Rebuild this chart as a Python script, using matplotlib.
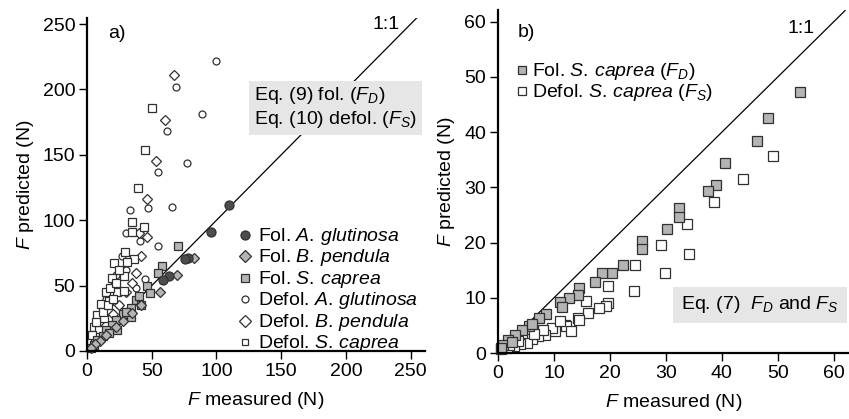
import matplotlib
matplotlib.use("Agg")
import matplotlib.pyplot as plt

plt.rcParams['font.family'] = ['Liberation Sans', 'DejaVu Sans']
plt.rcParams['mathtext.fontset'] = 'custom'
plt.rcParams['mathtext.rm'] = 'Liberation Sans'
plt.rcParams['mathtext.it'] = 'Liberation Sans:italic'
plt.rcParams['mathtext.bf'] = 'Liberation Sans:bold'

# ---- panel a data (Eq. 9 foliated, Eq. 10 defoliated) ----
fol_alnus_x = [110, 95.5, 78, 76, 63.5, 59]
fol_alnus_y = [112, 91, 71, 70, 57, 54.5]

fol_betula_x = [83, 69.5, 56, 42, 35, 28, 22, 15, 10, 6, 3]
fol_betula_y = [71, 58, 45, 35, 29, 23, 18, 12, 8, 5, 2.5]

fol_salix_x = [70.5, 58, 55, 46, 49, 37.5, 41.5, 34, 27.5, 34, 22, 19.5, 14.5, 23.5, 12, 8, 5.5, 3, 40, 30, 17]
fol_salix_y = [80, 65, 60, 50, 44.5, 39, 35, 32.5, 28.5, 26, 23.5, 20, 16, 16, 11.5, 8.5, 4.5, 2, 42, 30, 14]

defol_alnus_x = [100, 69, 89, 62, 77.5, 54.5, 66, 47, 33, 30, 41, 55, 27, 45, 30, 20, 15, 10, 5, 38, 25,
                 8, 12, 18, 22]
defol_alnus_y = [222, 202, 181, 168, 143.5, 137, 110, 109, 108, 90, 84, 80, 73, 55, 62, 50, 40, 25, 10, 48, 35,
                 18, 28, 40, 58]

defol_betula_x = [67, 60, 53.5, 46, 46.5, 40, 42, 38, 35, 30, 25, 20, 15, 10, 5]
defol_betula_y = [211, 177, 145, 116, 87, 90, 73, 60, 52, 45, 35, 28, 20, 13, 6]

defol_salix_x = [50, 45, 39.5, 34.5, 44, 34.5, 29, 36.5, 31, 21, 19, 28.5, 15, 23.5, 28.5, 10.5, 17, 8, 13, 5.5,
                 9.5, 3, 6, 4, 7, 12, 18, 22, 25, 16, 20]
defol_salix_y = [186, 154, 125, 99, 95, 91, 76, 70, 68, 67, 55.5, 57, 45, 45, 46, 36, 38, 27.5, 25, 18.5,
                 16, 8, 11, 12, 22, 30, 48, 52, 62, 35, 40]

# ---- panel b data (Eq. 7, S. caprea) ----
fol_b_x = [54.0, 48.3, 46.2, 40.6, 38.9, 37.5, 32.4, 32.3, 30.2, 25.7, 25.8, 22.4, 20.4, 18.6, 17.4,
           14.5, 14.3, 12.7, 11.1, 11.4, 8.5, 7.3, 5.5, 4.3, 3.0, 1.8, 0.9, 0.5, 2.5, 6]
fol_b_y = [47.3, 42.5, 38.4, 34.4, 30.4, 29.3, 26.3, 24.6, 22.5, 20.2, 18.8, 15.9, 14.4, 14.4, 12.9,
           11.7, 10.5, 9.9, 9.3, 8.3, 7.1, 6.3, 4.8, 4.2, 3.3, 2.4, 1.4, 0.9, 2.0, 5.2]

defol_b_x = [49.2, 43.7, 38.5, 33.7, 29.1, 34.1, 29.8, 24.5, 24.3, 19.7, 19.6, 19.3, 18.0, 15.7, 16.1,
             14.3, 14.5, 12.0, 12.2, 10.2, 9.6, 8.4, 7.1, 6.1, 5.2, 4.0, 2.8, 1.6, 0.5, 11, 13, 8, 6.5, 3.5, 2]
defol_b_y = [35.6, 31.5, 27.4, 23.4, 19.6, 18.0, 14.5, 15.9, 11.3, 12.2, 9.1, 8.5, 8.1, 9.5, 7.2,
             6.3, 6.0, 5.1, 4.8, 3.9, 4.5, 3.3, 3.0, 2.6, 1.9, 1.6, 1.2, 0.9, 0.8, 5.8, 4.0, 4.2, 3.5, 2.2, 1.5]

ticks_a = [0, 50, 100, 150, 200, 250]
ticks_b = [0, 10, 20, 30, 40, 50, 60]

labels_a = ['Fol. $\\it{A.\\,glutinosa}$', 'Fol. $\\it{B.\\,pendula}$', 'Fol. $\\it{S.\\,caprea}$',
            'Defol. $\\it{A.\\,glutinosa}$', 'Defol. $\\it{B.\\,pendula}$', 'Defol. $\\it{S.\\,caprea}$']
labels_b = ['Fol. $\\it{S.\\,caprea}$ ($F_D$)', 'Defol. $\\it{S.\\,caprea}$ ($F_S$)']

GRAY = '#b4b4b4'
DARK = '#4d4d4d'
EDGE = '#303030'
FS = 14

fig = plt.figure(figsize=(8.49, 4.19), dpi=100)
ax1 = fig.add_axes([0.1025, 0.1623, 0.398, 0.7947])
ax2 = fig.add_axes([0.5866, 0.1575, 0.4134, 0.8186])


def style(ax, ticks, xmax, ymax):
    ax.set_xlim(0, xmax)
    ax.set_ylim(0, ymax)
    ax.set_xticks(ticks)
    ax.set_yticks(ticks)
    for s in ['top', 'right']:
        ax.spines[s].set_visible(False)
    for s in ['left', 'bottom']:
        ax.spines[s].set_linewidth(1.6)
    ax.tick_params(direction='out', length=6, width=1, labelsize=FS, pad=2.5)
    ax.set_xlabel('$F$ measured (N)', fontsize=FS, labelpad=7)
    ax.set_ylabel('$F$ predicted (N)', fontsize=FS, labelpad=5)


def key(ax, x_m, x_t, y, marker, ms, fc, label):
    # one legend row: marker + text, in axes fraction
    ax.plot([x_m], [y], linestyle='none', marker=marker, ms=ms, mfc=fc, mec=EDGE, mew=0.9,
            transform=ax.transAxes, clip_on=False)
    ax.text(x_t, y - 0.018, label, transform=ax.transAxes, fontsize=FS, ha='left', va='baseline')


kw = dict(linestyle='none', clip_on=False, markeredgewidth=0.9)

# panel a
style(ax1, ticks_a, 261, 254.6)
ax1.plot([0, 255], [0, 255], color='black', lw=0.9)
ax1.plot(defol_alnus_x, defol_alnus_y, marker='o', ms=5, mfc='white', mec=EDGE, **kw)
ax1.plot(defol_betula_x, defol_betula_y, marker='D', ms=5.5, mfc='white', mec=EDGE, **kw)
ax1.plot(defol_salix_x, defol_salix_y, marker='s', ms=6, mfc='white', mec=EDGE, **kw)
ax1.plot(fol_salix_x, fol_salix_y, marker='s', ms=6, mfc=GRAY, mec=EDGE, **kw)
ax1.plot(fol_betula_x, fol_betula_y, marker='D', ms=5.5, mfc=GRAY, mec=EDGE, **kw)
ax1.plot(fol_alnus_x, fol_alnus_y, marker='o', ms=6.5, mfc=DARK, mec=EDGE, **kw)

styles_a = [('o', 6.5, DARK), ('D', 6, GRAY), ('s', 6, GRAY),
            ('o', 5, 'white'), ('D', 6, 'white'), ('s', 5, 'white')]
for i, (m, ms, fc) in enumerate(styles_a):
    yy = (351 - (235 + 21.4 * i)) / 333
    key(ax1, 0.4675, 0.506, yy, m, ms, fc, labels_a[i])

ax1.text(0.062, 0.955, 'a)', transform=ax1.transAxes, fontsize=FS, va='center', ha='left')
ax1.text(231, 250, '1:1', fontsize=FS, ha='center', va='center')
ax1.text(0.494, 0.73, 'Eq. (9) fol. ($F_D$)\nEq. (10) defol. ($F_S$)', transform=ax1.transAxes,
         fontsize=FS, ha='left', va='center', linespacing=1.2,
         bbox=dict(boxstyle='square,pad=0.25', facecolor='#e6e6e6', edgecolor='none'))

# panel b
style(ax2, ticks_b, 62.7, 62.1)
ax2.plot([0, 62], [0, 62], color='black', lw=0.9)
ax2.plot(defol_b_x, defol_b_y, marker='s', ms=7, mfc='white', mec=EDGE, **kw)
ax2.plot(fol_b_x, fol_b_y, marker='s', ms=7, mfc=GRAY, mec=EDGE, **kw)

for i, fc in enumerate([GRAY, 'white']):
    yy = (353 - (70 + 20.5 * i)) / 343
    key(ax2, 0.068, 0.098, yy, 's', 6, fc, labels_b[i])

ax2.text(0.057, 0.933, 'b)', transform=ax2.transAxes, fontsize=FS, va='center', ha='left')
ax2.text(54.1, 58.8, '1:1', fontsize=FS, ha='center', va='center')
ax2.text(0.746, 0.14, 'Eq. (7)  $F_D$ and $F_S$', transform=ax2.transAxes,
         fontsize=FS, ha='center', va='center',
         bbox=dict(boxstyle='square,pad=0.4', facecolor='#e6e6e6', edgecolor='none'))

fig.savefig('out.png', dpi=100)
